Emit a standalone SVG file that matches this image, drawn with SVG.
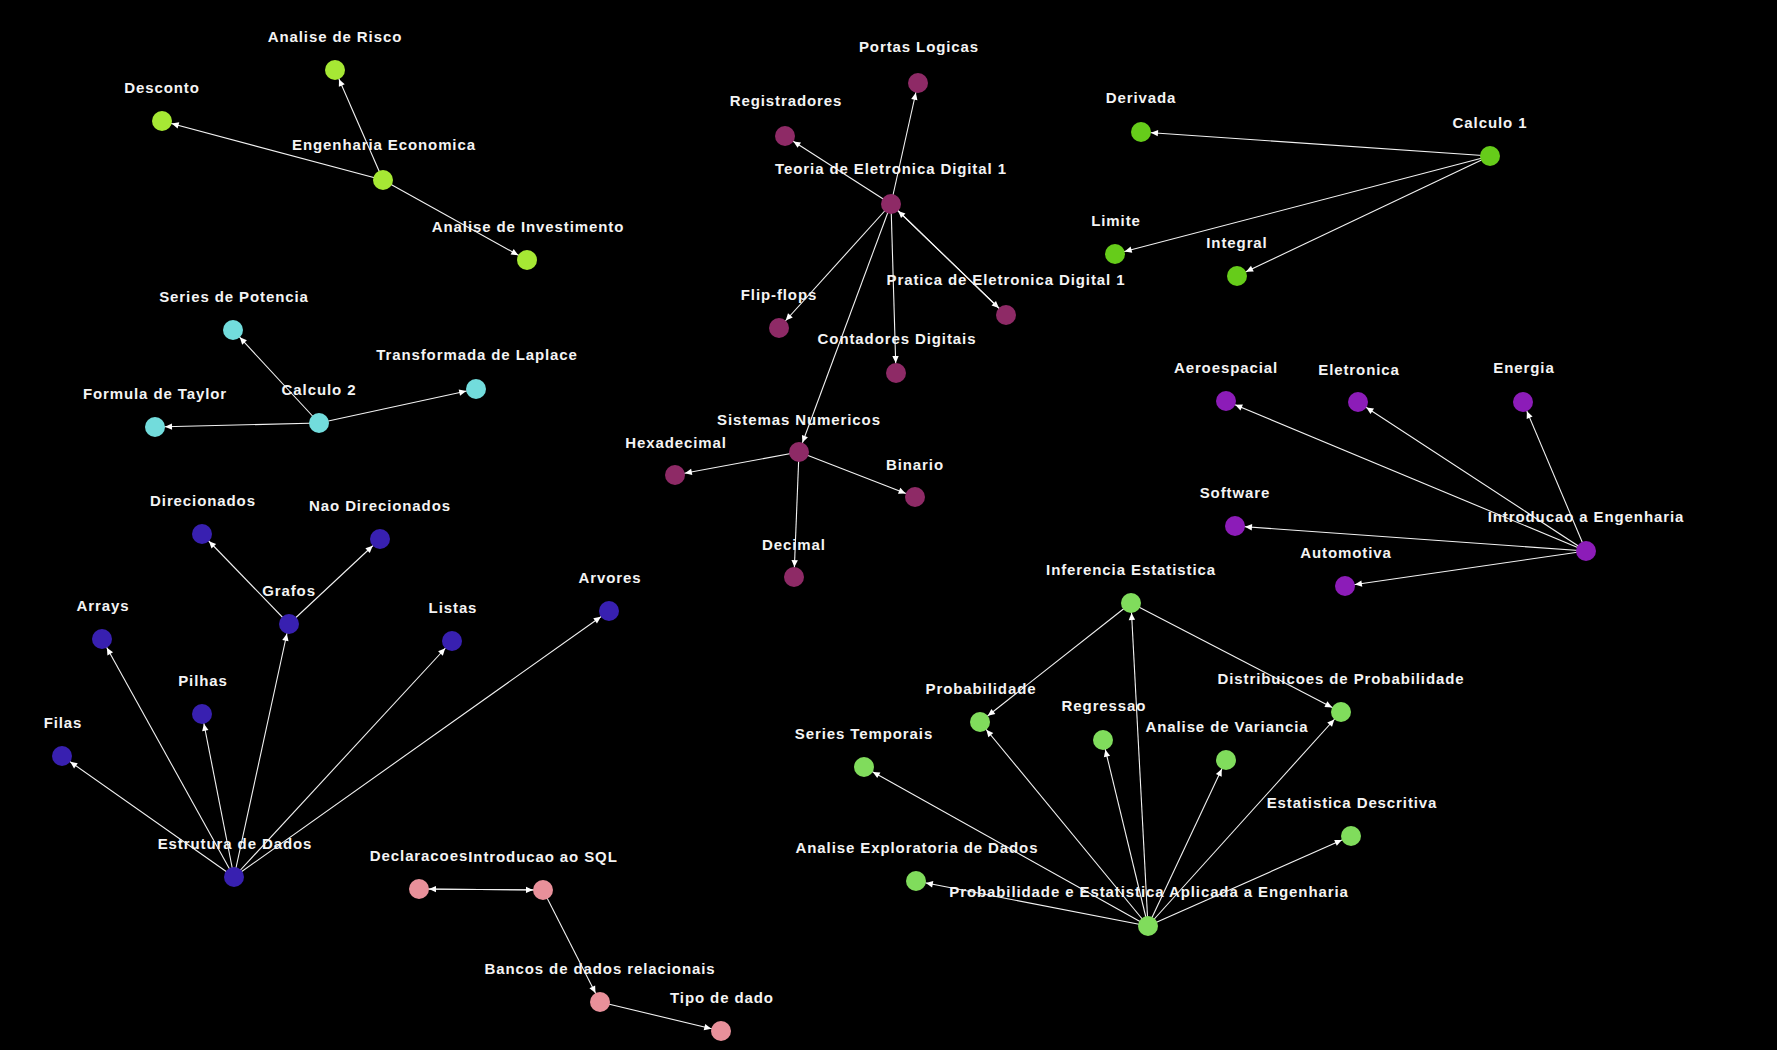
<svg xmlns="http://www.w3.org/2000/svg" width="1777" height="1050" viewBox="0 0 1777 1050">
<style>
.bg{fill:#000}
.e{stroke:#f2f2f2;stroke-width:1.1;fill:none;marker-end:url(#ah)}
.n circle{stroke:none}
.n text{font-family:"Liberation Sans",Arial,sans-serif;font-weight:bold;font-size:15px;letter-spacing:0.9px;fill:#f4f4f4;text-anchor:middle}
.econ circle{fill:#a6e834}
.c2 circle{fill:#72dcdc}
.ele circle{fill:#8e2a66}
.c1 circle{fill:#66cc1a}
.ie circle{fill:#8c1cb8}
.ds circle{fill:#3820b0}
.sql circle{fill:#e8909a}
.st circle{fill:#80dc5c}
</style>
<defs>
<marker id="ah" markerUnits="userSpaceOnUse" refX="10" refY="0" markerWidth="1" markerHeight="1" orient="auto" overflow="visible">
<path d="M0,0 L-7,-3.2 L-7,3.2 Z" fill="#ffffff"/>
</marker>
</defs>
<rect class="bg" x="0" y="0" width="1777" height="1050"/>
<g id="connectors">
<line class="e" x1="383" y1="180" x2="335" y2="70"/>
<line class="e" x1="383" y1="180" x2="162" y2="121"/>
<line class="e" x1="383" y1="180" x2="527" y2="260"/>
<line class="e" x1="319" y1="423" x2="233" y2="330"/>
<line class="e" x1="319" y1="423" x2="155" y2="427"/>
<line class="e" x1="319" y1="423" x2="476" y2="389"/>
<line class="e" x1="891" y1="204" x2="918" y2="83"/>
<line class="e" x1="891" y1="204" x2="785" y2="136"/>
<line class="e" x1="891" y1="204" x2="779" y2="328"/>
<line class="e" x1="891" y1="204" x2="896" y2="373"/>
<line class="e" x1="891" y1="204" x2="799" y2="452"/>
<line class="e" x1="891" y1="204" x2="1006" y2="315"/>
<line class="e" x1="1006" y1="315" x2="891" y2="204"/>
<line class="e" x1="799" y1="452" x2="675" y2="475"/>
<line class="e" x1="799" y1="452" x2="915" y2="497"/>
<line class="e" x1="799" y1="452" x2="794" y2="577"/>
<line class="e" x1="1490" y1="156" x2="1141" y2="132"/>
<line class="e" x1="1490" y1="156" x2="1115" y2="254"/>
<line class="e" x1="1490" y1="156" x2="1237" y2="276"/>
<line class="e" x1="1586" y1="551" x2="1226" y2="401"/>
<line class="e" x1="1586" y1="551" x2="1358" y2="402"/>
<line class="e" x1="1586" y1="551" x2="1523" y2="402"/>
<line class="e" x1="1586" y1="551" x2="1235" y2="526"/>
<line class="e" x1="1586" y1="551" x2="1345" y2="586"/>
<line class="e" x1="234" y1="877" x2="62" y2="756"/>
<line class="e" x1="234" y1="877" x2="102" y2="639"/>
<line class="e" x1="234" y1="877" x2="202" y2="714"/>
<line class="e" x1="234" y1="877" x2="289" y2="624"/>
<line class="e" x1="234" y1="877" x2="452" y2="641"/>
<line class="e" x1="234" y1="877" x2="609" y2="611"/>
<line class="e" x1="289" y1="624" x2="202" y2="534"/>
<line class="e" x1="289" y1="624" x2="380" y2="539"/>
<line class="e" x1="543" y1="890" x2="419" y2="889"/>
<line class="e" x1="419" y1="889" x2="543" y2="890"/>
<line class="e" x1="543" y1="890" x2="600" y2="1002"/>
<line class="e" x1="600" y1="1002" x2="721" y2="1031"/>
<line class="e" x1="1148" y1="926" x2="916" y2="881"/>
<line class="e" x1="1148" y1="926" x2="864" y2="767"/>
<line class="e" x1="1148" y1="926" x2="980" y2="722"/>
<line class="e" x1="1148" y1="926" x2="1103" y2="740"/>
<line class="e" x1="1148" y1="926" x2="1131" y2="603"/>
<line class="e" x1="1148" y1="926" x2="1226" y2="760"/>
<line class="e" x1="1148" y1="926" x2="1341" y2="712"/>
<line class="e" x1="1148" y1="926" x2="1351" y2="836"/>
<line class="e" x1="1131" y1="603" x2="980" y2="722"/>
<line class="e" x1="1131" y1="603" x2="1341" y2="712"/>
</g>
<g id="n-analise-risco" class="n econ"><circle cx="335" cy="70" r="10"/><text x="335" y="42">Analise de Risco</text></g>
<g id="n-desconto" class="n econ"><circle cx="162" cy="121" r="10"/><text x="162" y="93">Desconto</text></g>
<g id="n-eng-economica" class="n econ"><circle cx="383" cy="180" r="10"/><text x="384" y="150">Engenharia Economica</text></g>
<g id="n-analise-invest" class="n econ"><circle cx="527" cy="260" r="10"/><text x="528" y="232">Analise de Investimento</text></g>
<g id="n-series-potencia" class="n c2"><circle cx="233" cy="330" r="10"/><text x="234" y="302">Series de Potencia</text></g>
<g id="n-laplace" class="n c2"><circle cx="476" cy="389" r="10"/><text x="477" y="360">Transformada de Laplace</text></g>
<g id="n-calculo2" class="n c2"><circle cx="319" cy="423" r="10"/><text x="319" y="395">Calculo 2</text></g>
<g id="n-taylor" class="n c2"><circle cx="155" cy="427" r="10"/><text x="155" y="399">Formula de Taylor</text></g>
<g id="n-portas" class="n ele"><circle cx="918" cy="83" r="10"/><text x="919" y="52">Portas Logicas</text></g>
<g id="n-registradores" class="n ele"><circle cx="785" cy="136" r="10"/><text x="786" y="106">Registradores</text></g>
<g id="n-teoria-ed1" class="n ele"><circle cx="891" cy="204" r="10"/><text x="891" y="174">Teoria de Eletronica Digital 1</text></g>
<g id="n-flipflops" class="n ele"><circle cx="779" cy="328" r="10"/><text x="779" y="300">Flip-flops</text></g>
<g id="n-contadores" class="n ele"><circle cx="896" cy="373" r="10"/><text x="897" y="344">Contadores Digitais</text></g>
<g id="n-pratica-ed1" class="n ele"><circle cx="1006" cy="315" r="10"/><text x="1006" y="285">Pratica de Eletronica Digital 1</text></g>
<g id="n-sistemas" class="n ele"><circle cx="799" cy="452" r="10"/><text x="799" y="425">Sistemas Numericos</text></g>
<g id="n-hexadecimal" class="n ele"><circle cx="675" cy="475" r="10"/><text x="676" y="448">Hexadecimal</text></g>
<g id="n-binario" class="n ele"><circle cx="915" cy="497" r="10"/><text x="915" y="470">Binario</text></g>
<g id="n-decimal" class="n ele"><circle cx="794" cy="577" r="10"/><text x="794" y="550">Decimal</text></g>
<g id="n-derivada" class="n c1"><circle cx="1141" cy="132" r="10"/><text x="1141" y="103">Derivada</text></g>
<g id="n-calculo1" class="n c1"><circle cx="1490" cy="156" r="10"/><text x="1490" y="128">Calculo 1</text></g>
<g id="n-limite" class="n c1"><circle cx="1115" cy="254" r="10"/><text x="1116" y="226">Limite</text></g>
<g id="n-integral" class="n c1"><circle cx="1237" cy="276" r="10"/><text x="1237" y="248">Integral</text></g>
<g id="n-aeroespacial" class="n ie"><circle cx="1226" cy="401" r="10"/><text x="1226" y="373">Aeroespacial</text></g>
<g id="n-eletronica" class="n ie"><circle cx="1358" cy="402" r="10"/><text x="1359" y="375">Eletronica</text></g>
<g id="n-energia" class="n ie"><circle cx="1523" cy="402" r="10"/><text x="1524" y="373">Energia</text></g>
<g id="n-software" class="n ie"><circle cx="1235" cy="526" r="10"/><text x="1235" y="498">Software</text></g>
<g id="n-intro-eng" class="n ie"><circle cx="1586" cy="551" r="10"/><text x="1586" y="522">Introducao a Engenharia</text></g>
<g id="n-automotiva" class="n ie"><circle cx="1345" cy="586" r="10"/><text x="1346" y="558">Automotiva</text></g>
<g id="n-direcionados" class="n ds"><circle cx="202" cy="534" r="10"/><text x="203" y="506">Direcionados</text></g>
<g id="n-nao-direcionados" class="n ds"><circle cx="380" cy="539" r="10"/><text x="380" y="511">Nao Direcionados</text></g>
<g id="n-grafos" class="n ds"><circle cx="289" cy="624" r="10"/><text x="289" y="596">Grafos</text></g>
<g id="n-arrays" class="n ds"><circle cx="102" cy="639" r="10"/><text x="103" y="611">Arrays</text></g>
<g id="n-listas" class="n ds"><circle cx="452" cy="641" r="10"/><text x="453" y="613">Listas</text></g>
<g id="n-arvores" class="n ds"><circle cx="609" cy="611" r="10"/><text x="610" y="583">Arvores</text></g>
<g id="n-pilhas" class="n ds"><circle cx="202" cy="714" r="10"/><text x="203" y="686">Pilhas</text></g>
<g id="n-filas" class="n ds"><circle cx="62" cy="756" r="10"/><text x="63" y="728">Filas</text></g>
<g id="n-estrutura" class="n ds"><circle cx="234" cy="877" r="10"/><text x="235" y="849">Estrutura de Dados</text></g>
<g id="n-declaracoes" class="n sql"><circle cx="419" cy="889" r="10"/><text x="419" y="861">Declaracoes</text></g>
<g id="n-intro-sql" class="n sql"><circle cx="543" cy="890" r="10"/><text x="543" y="862">Introducao ao SQL</text></g>
<g id="n-bancos" class="n sql"><circle cx="600" cy="1002" r="10"/><text x="600" y="974">Bancos de dados relacionais</text></g>
<g id="n-tipo-dado" class="n sql"><circle cx="721" cy="1031" r="10"/><text x="722" y="1003">Tipo de dado</text></g>
<g id="n-inferencia" class="n st"><circle cx="1131" cy="603" r="10"/><text x="1131" y="575">Inferencia Estatistica</text></g>
<g id="n-probabilidade" class="n st"><circle cx="980" cy="722" r="10"/><text x="981" y="694">Probabilidade</text></g>
<g id="n-regressao" class="n st"><circle cx="1103" cy="740" r="10"/><text x="1104" y="711">Regressao</text></g>
<g id="n-anova" class="n st"><circle cx="1226" cy="760" r="10"/><text x="1227" y="732">Analise de Variancia</text></g>
<g id="n-distribuicoes" class="n st"><circle cx="1341" cy="712" r="10"/><text x="1341" y="684">Distribuicoes de Probabilidade</text></g>
<g id="n-series-temporais" class="n st"><circle cx="864" cy="767" r="10"/><text x="864" y="739">Series Temporais</text></g>
<g id="n-estat-descritiva" class="n st"><circle cx="1351" cy="836" r="10"/><text x="1352" y="808">Estatistica Descritiva</text></g>
<g id="n-analise-exploratoria" class="n st"><circle cx="916" cy="881" r="10"/><text x="917" y="853">Analise Exploratoria de Dados</text></g>
<g id="n-prob-estat" class="n st"><circle cx="1148" cy="926" r="10"/><text x="1149" y="897">Probabilidade e Estatistica Aplicada a Engenharia</text></g>
</svg>
